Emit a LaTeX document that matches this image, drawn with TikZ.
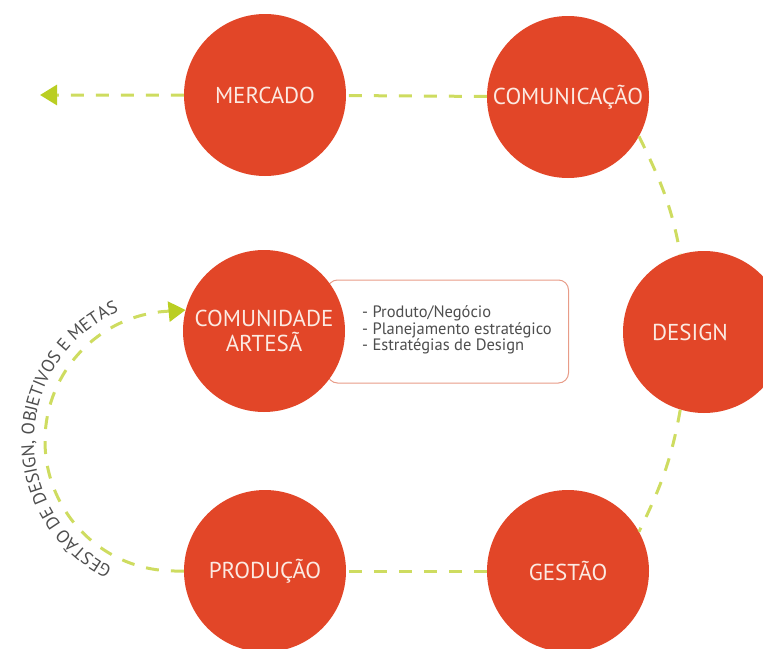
\documentclass[tikz,border=0pt]{standalone}
\usepackage{fontspec}
\setmainfont{PT Sans}
\usetikzlibrary{arrows.meta}
\usetikzlibrary{decorations.text}

\definecolor{laranja}{RGB}{226,70,40}
\definecolor{verde}{RGB}{206,220,96}
\definecolor{verdeponta}{RGB}{186,206,34}
\definecolor{borda}{RGB}{232,156,136}
\definecolor{cinza}{RGB}{78,78,78}
\definecolor{rotulo}{RGB}{252,234,226}

\begin{document}
\begin{tikzpicture}[x=1pt,y=1pt,
  etapa/.style={circle, fill=laranja, minimum size=162pt, inner sep=0pt, text=rotulo, font=\fontsize{23}{25}\selectfont, align=center},
  fluxo/.style={verde, line width=3pt, dash pattern=on 13pt off 12pt},
  ponta/.style={-{Triangle[length=17pt,width=20pt,color=verdeponta]}},
  caixa/.style={draw=borda, line width=1pt, rounded corners=10pt, fill=white, minimum width=241pt, minimum height=103pt, inner sep=0pt},
  itens/.style={text=cinza, font=\fontsize{16.5}{16.3}\selectfont, align=left, inner sep=0pt}]
\useasboundingbox (0,0) rectangle (763,-648);
\clip (0,0) rectangle (763,-648);

% caixa atras da comunidade
\node[caixa, anchor=west] (quadro) at (327,-331.5) {};
\node[itens, anchor=west] (lista) at (362,-330) {- Produto/Negócio\\- Planejamento estratégico\\- Estratégias de Design};

\node[etapa] (mercado) at (265,-95) {MERCADO};
\node[etapa] (comunicacao) at (568,-97) {COMUNICAÇÃO};
\node[etapa] (comunidade) at (264,-331) {COMUNIDADE\\ARTESÃ};
\node[etapa] (design) at (704,-332) {};
\node[text=rotulo, font=\fontsize{23}{25}\selectfont] (designtxt) at (690,-332) {DESIGN};
\node[etapa] (producao) at (265,-571) {PRODUÇÃO};
\node[etapa] (gestao) at (568,-571) {GESTÃO};

\coordinate (saida) at (40,-95);
\coordinate (volta) at (175,-571);

\draw[fluxo] (gestao) -- (producao);
\draw[fluxo] (design.-107) to[out=-100,in=64] (gestao.29);
\draw[fluxo] (comunicacao.-29) to[out=-64,in=100] (design.107);
\draw[fluxo, ponta] (comunicacao) -- (mercado) -- (saida);
\draw[fluxo, ponta] (producao.west) -- (volta) arc[start angle=270, end angle=90, radius=130] -- (comunidade.165);

% texto ao longo do arco
\path[decorate, decoration={text along path, text align=center,
  text format delimiters={|}{|},
  text={|\fontsize{18}{18}\selectfont\color{cinza}|GESTÃO DE DESIGN, OBJETIVOS E METAS}}]
  (175,-441) ++(250:141) arc[start angle=250, end angle=107, radius=141];
\end{tikzpicture}
\end{document}
